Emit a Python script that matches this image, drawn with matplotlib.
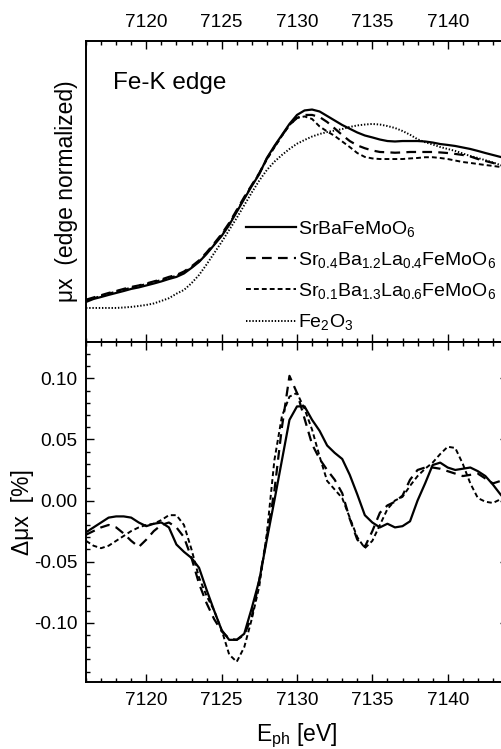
import numpy as np
import matplotlib
matplotlib.use('Agg')
import matplotlib.pyplot as plt
from matplotlib.ticker import MultipleLocator

plt.rcParams['font.family'] = ['Liberation Sans', 'DejaVu Sans']
plt.rcParams['mathtext.fontset'] = 'custom'
plt.rcParams['mathtext.rm'] = 'Liberation Sans'
plt.rcParams['mathtext.it'] = 'Liberation Sans:italic'
plt.rcParams['lines.scale_dashes'] = False

# photon energy grid (eV)
energy = np.arange(7116.0, 7144.01, 0.5)

# XANES, edge normalized
mu_srba = [0.020, 0.040, 0.053, 0.067, 0.080, 0.093, 0.107, 0.117, 0.130, 0.143,
           0.157, 0.173, 0.187, 0.210, 0.247, 0.287, 0.340, 0.400, 0.460, 0.533,
           0.620, 0.707, 0.793, 0.873, 0.980, 1.060, 1.133, 1.207, 1.267, 1.297,
           1.303, 1.290, 1.260, 1.230, 1.200, 1.175, 1.150, 1.130, 1.117, 1.103,
           1.093, 1.090, 1.093, 1.093, 1.093, 1.090, 1.083, 1.073, 1.067, 1.060,
           1.050, 1.040, 1.027, 1.013, 1.000, 0.987, 0.977]
mu_la04 = [0.035, 0.050, 0.065, 0.080, 0.093, 0.107, 0.120, 0.130, 0.143, 0.157,
           0.170, 0.187, 0.200, 0.223, 0.257, 0.297, 0.350, 0.410, 0.473, 0.547,
           0.633, 0.720, 0.800, 0.880, 0.975, 1.055, 1.130, 1.200, 1.247, 1.267,
           1.267, 1.253, 1.220, 1.177, 1.133, 1.093, 1.064, 1.045, 1.030, 1.020,
           1.018, 1.015, 1.017, 1.020, 1.020, 1.020, 1.020, 1.017, 1.013, 1.007,
           1.000, 0.990, 0.973, 0.960, 0.947, 0.933, 0.920]
mu_la06 = [0.030, 0.045, 0.060, 0.075, 0.090, 0.103, 0.115, 0.127, 0.140, 0.153,
           0.167, 0.180, 0.195, 0.217, 0.250, 0.290, 0.343, 0.403, 0.467, 0.540,
           0.627, 0.713, 0.797, 0.877, 0.970, 1.050, 1.127, 1.200, 1.247, 1.257,
           1.240, 1.190, 1.157, 1.127, 1.090, 1.053, 1.013, 0.987, 0.977, 0.973,
           0.973, 0.973, 0.973, 0.977, 0.980, 0.985, 0.985, 0.980, 0.973, 0.963,
           0.953, 0.947, 0.940, 0.933, 0.927, 0.920, 0.913]
mu_fe2o3 = [-0.020, -0.020, -0.020, -0.020, -0.020, -0.017, -0.013, -0.007, 0.000, 0.010,
            0.027, 0.045, 0.075, 0.100, 0.145, 0.200, 0.270, 0.345, 0.420, 0.500,
            0.580, 0.665, 0.750, 0.830, 0.900, 0.955, 1.000, 1.040, 1.075, 1.100,
            1.123, 1.140, 1.153, 1.163, 1.173, 1.187, 1.197, 1.203, 1.207, 1.203,
            1.193, 1.180, 1.160, 1.135, 1.105, 1.085, 1.070, 1.053, 1.040, 1.027,
            1.010, 0.993, 0.980, 0.965, 0.950, 0.933, 0.920]

# difference spectra
d_srba = [-0.026, -0.022, -0.018, -0.014, -0.013, -0.013, -0.014, -0.018, -0.021, -0.019,
          -0.018, -0.022, -0.036, -0.042, -0.047, -0.055, -0.073, -0.090, -0.106, -0.114,
          -0.114, -0.109, -0.088, -0.065, -0.032, 0.000, 0.033, 0.066, 0.077, 0.077,
          0.066, 0.057, 0.045, 0.039, 0.034, 0.021, 0.005, -0.012, -0.018, -0.022,
          -0.019, -0.022, -0.021, -0.017, 0.000, 0.014, 0.029, 0.031, 0.027, 0.025,
          0.026, 0.027, 0.024, 0.020, 0.013, 0.005, -0.002]
d_la04 = [-0.028, -0.025, -0.022, -0.020, -0.022, -0.027, -0.033, -0.038, -0.032, -0.025,
          -0.020, -0.018, -0.022, -0.030, -0.047, -0.068, -0.084, -0.097, -0.107, -0.113,
          -0.114, -0.110, -0.095, -0.065, -0.030, 0.008, 0.060, 0.102, 0.088, 0.067,
          0.046, 0.034, 0.025, 0.017, 0.006, -0.015, -0.032, -0.038, -0.025, -0.010,
          -0.004, -0.001, 0.004, 0.017, 0.025, 0.027, 0.027, 0.026, 0.024, 0.022,
          0.020, 0.021, 0.022, 0.018, 0.014, 0.016, 0.020]
d_la06 = [-0.033, -0.037, -0.039, -0.037, -0.033, -0.029, -0.025, -0.022, -0.020, -0.019,
          -0.016, -0.012, -0.012, -0.020, -0.040, -0.063, -0.078, -0.090, -0.106, -0.126,
          -0.132, -0.120, -0.097, -0.070, -0.027, 0.033, 0.069, 0.085, 0.088, 0.075,
          0.058, 0.036, 0.016, 0.009, 0.002, -0.014, -0.030, -0.039, -0.033, -0.020,
          -0.007, 0.000, 0.003, 0.012, 0.020, 0.026, 0.031, 0.038, 0.044, 0.043,
          0.030, 0.014, 0.002, -0.001, -0.002, 0.001, 0.005]

labels = ['SrBaFeMoO$_6$',
          'Sr$_{0.4}$Ba$_{1.2}$La$_{0.4}$FeMoO$_6$',
          'Sr$_{0.1}$Ba$_{1.3}$La$_{0.6}$FeMoO$_6$',
          'Fe$_2$O$_3$']

styles = [dict(linestyle='-', linewidth=1.6),
          dict(linestyle=(0, (7, 4.5)), linewidth=1.6),
          dict(linestyle=(0, (3.5, 2.2)), linewidth=1.4),
          dict(linestyle=(0, (1.0, 1.3)), linewidth=1.4)]

W, H = 502, 749
fig = plt.figure(figsize=(W / 100, H / 100), dpi=100)
left, width = 86 / W, 422 / W
ax1 = fig.add_axes([left, (H - 342) / H, width, 301 / H])
ax2 = fig.add_axes([left, (H - 682) / H, width, 340 / H])

for ax in (ax1, ax2):
    for sp in ax.spines.values():
        sp.set_linewidth(1.4)
    ax.set_xlim(7116, 7144)
    ax.xaxis.set_major_locator(MultipleLocator(5))
    ax.xaxis.set_minor_locator(MultipleLocator(1))
    ax.tick_params(which='both', direction='in', top=True, right=True, width=1.0,
                   labelsize=13.7, colors='black')
    ax.tick_params(which='major', length=6)
    ax.tick_params(which='minor', length=3)

# top panel: XANES
for y, lab, st in zip([mu_srba, mu_la04, mu_la06, mu_fe2o3], labels, styles):
    ax1.plot(energy, y, color='black', label=lab, **st)
ax1.set_ylim(-0.247, 1.76)
ax1.tick_params(axis='x', which='both', labeltop=True, labelbottom=False, pad=7)
ax1.tick_params(axis='y', which='both', left=False, right=False, labelleft=False)
ax1.set_ylabel('μx  (edge normalized)', fontsize=16.5, labelpad=6)
ax1.text(0.064, 0.84, 'Fe-K edge', transform=ax1.transAxes, fontsize=17.5,
         ha='left', va='baseline')
ax1.legend(loc='upper left', bbox_to_anchor=(0.378, 0.41), frameon=False,
           fontsize=14, handlelength=2.6, handletextpad=0.1, labelspacing=0.58,
           borderpad=0, borderaxespad=0)

# bottom panel: difference spectra
for y, st in zip([d_srba, d_la04, d_la06], styles[:3]):
    ax2.plot(energy, y, color='black', **st)
ax2.set_ylim(-0.1485, 0.1297)
ax2.yaxis.set_major_locator(MultipleLocator(0.05))
ax2.yaxis.set_minor_locator(MultipleLocator(0.01))
ax2.yaxis.set_major_formatter(plt.FormatStrFormatter('%.2f'))
ax2.tick_params(axis='x', which='both', pad=7)
ax2.tick_params(axis='y', which='both', pad=6)
ax2.set_ylabel('Δμx  [%]', fontsize=16.5, labelpad=0)
ax2.set_xlabel('E$_{\\rm ph}$ [eV]', fontsize=16.5, labelpad=9)

fig.savefig('out.png', dpi=100)
